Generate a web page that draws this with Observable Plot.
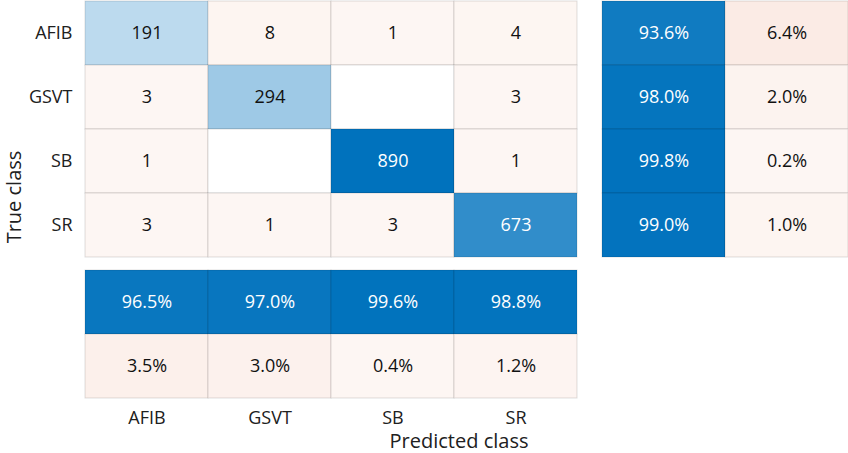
<!DOCTYPE html>
<html><head><meta charset="utf-8">
<script src="https://cdn.jsdelivr.net/npm/d3@7"></script>
<script src="https://cdn.jsdelivr.net/npm/@observablehq/plot@0.6"></script>
<style>
body{margin:0;background:#fff;}
#wrap{position:relative;width:848px;height:453px;font-family:"Open Sans",sans-serif;color:#202020;overflow:hidden;}
.pane{position:absolute;}
.title{position:absolute;font-size:20px;white-space:nowrap;color:#202020;line-height:1.2;}
</style></head><body><div id="wrap"></div>
<script>
const classes = ["AFIB","GSVT","SB","SR"];
const counts = [
  [191, 8, 1, 4],
  [3, 294, 0, 3],
  [1, 0, 890, 1],
  [3, 1, 3, 673]
];
const rowCorrect = [93.6, 98.0, 99.8, 99.0];
const rowIncorrect = [6.4, 2.0, 0.2, 1.0];
const colCorrect = [96.5, 97.0, 99.6, 98.8];
const colIncorrect = [3.5, 3.0, 0.4, 1.2];
const summaryKeys = ["correct", "incorrect"];
const trueLabel = "True class";
const predLabel = "Predicted class";

const FONT = "'Open Sans', sans-serif";
const FS = 18;
const blue = "rgb(0,114,189)", orange = "rgb(217,83,25)";
const shade = (base, t) => d3.interpolateRgb("white", base)(Math.min(1, t));

const cells = [];
classes.forEach((tc, i) => classes.forEach((pc, j) => cells.push({tc, pc, v: counts[i][j], diag: i === j})));
const maxCount = d3.max(cells, d => d.v);
const cellT = d => d.v === 0 ? 0 : 0.05 + d.v / maxCount;
const cellFill = d => d.v === 0 ? "white" : shade(d.diag ? blue : orange, cellT(d));
const cellText = d => (d.diag && cellT(d) > 0.55) ? "white" : "#111";

const wrap = document.getElementById("wrap");
function place(el, left, top) { el.classList.add("pane"); el.style.left = left + "px"; el.style.top = top + "px"; wrap.appendChild(el); }

const common = {color: {type: "identity"}, style: {fontSize: FS + "px", fontFamily: FONT, color: "#202020", background: "transparent", overflow: "visible"}};
const strokeOpts = {stroke: "black", strokeOpacity: 0.13, strokeWidth: 1};

// Main matrix
const A = Plot.plot({
  ...common,
  width: 578, height: 258, marginLeft: 84, marginRight: 1, marginTop: 0.5, marginBottom: 1.5,
  x: {domain: classes, padding: 0, axis: null},
  y: {domain: classes, padding: 0, tickSize: 0, tickPadding: 12, label: null},
  marks: [
    Plot.cell(cells, {x: "pc", y: "tc", fill: cellFill, ...strokeOpts}),
    Plot.text(cells.filter(d => d.v > 0), {x: "pc", y: "tc", text: d => String(d.v), fill: cellText, fontSize: FS})
  ]
});
place(A, 0, 0);

// Row summary (right)
const rows = [];
classes.forEach((tc, i) => {
  rows.push({tc, k: "correct", p: rowCorrect[i]});
  rows.push({tc, k: "incorrect", p: rowIncorrect[i]});
});
const sumFill = d => d.k === "correct" ? shade(blue, d.p / 100) : shade(orange, 0.05 + d.p / 100);
const sumText = d => d.k === "correct" ? "white" : "#111";
const B = Plot.plot({
  ...common,
  width: 247, height: 258, marginLeft: 0.5, marginRight: 0.5, marginTop: 0.5, marginBottom: 1.5,
  x: {domain: summaryKeys, padding: 0, axis: null},
  y: {domain: classes, padding: 0, axis: null},
  marks: [
    Plot.cell(rows, {x: "k", y: "tc", fill: sumFill, ...strokeOpts}),
    Plot.text(rows, {x: "k", y: "tc", text: d => d.p.toFixed(1) + "%", fill: sumText, fontSize: FS})
  ]
});
place(B, 601, 0);

// Column summary (bottom)
const cols = [];
classes.forEach((pc, j) => {
  cols.push({pc, k: "correct", p: colCorrect[j]});
  cols.push({pc, k: "incorrect", p: colIncorrect[j]});
});
const C = Plot.plot({
  ...common,
  width: 578, height: 170, marginLeft: 84, marginRight: 1, marginTop: 0.5, marginBottom: 41.5,
  x: {domain: classes, padding: 0, tickSize: 0, tickPadding: 13, label: null},
  y: {domain: summaryKeys, padding: 0, axis: null},
  marks: [
    Plot.cell(cols, {x: "pc", y: "k", fill: sumFill, ...strokeOpts}),
    Plot.text(cols, {x: "pc", y: "k", text: d => d.p.toFixed(1) + "%", fill: sumText, fontSize: FS})
  ]
});
place(C, 0, 269);

// Axis titles
const yt = document.createElement("div");
yt.className = "title"; yt.textContent = trueLabel;
yt.style.left = "14px"; yt.style.top = "197px";
yt.style.transform = "translate(-50%,-50%) rotate(-90deg)";
wrap.appendChild(yt);
const xt = document.createElement("div");
xt.className = "title"; xt.textContent = predLabel;
xt.style.left = "459px"; xt.style.top = "441px";
xt.style.transform = "translate(-50%,-50%)";
wrap.appendChild(xt);
</script></body></html>
